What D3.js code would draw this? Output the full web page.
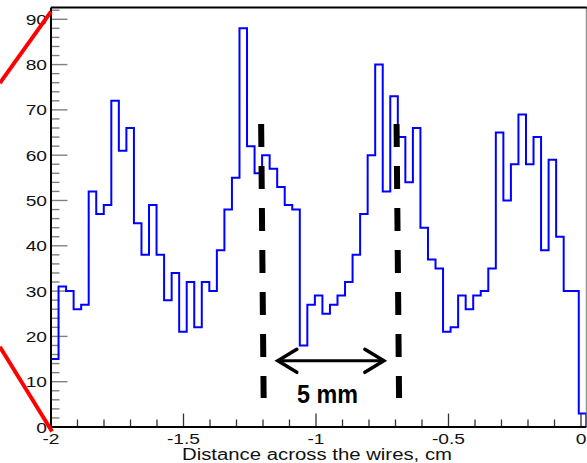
<!DOCTYPE html>
<html>
<head>
<meta charset="utf-8">
<script src="https://cdn.jsdelivr.net/npm/d3@7.9.0/dist/d3.min.js"></script>
<style>
  html, body { margin: 0; padding: 0; background: #fff; }
  svg { display: block; font-family: "Liberation Sans", Arial, sans-serif; }
</style>
</head>
<body>
<svg id="chart" width="587" height="463"></svg>
<script>
// histogram: 71 bins from -2 to 0.02 cm
const xMin = -2;
const xMax = 0.02;
const counts = [
  15, 31, 30, 26, 27, 52, 47, 49, 72, 61, 66, 45, 38, 49, 38, 28, 34, 21, 32, 22,
  32, 30, 39, 48, 55, 88, 62, 56, 60, 57, 53, 49, 48, 18, 27, 29, 25, 27, 29, 32,
  38, 47, 60, 80, 52, 73, 64, 54, 66, 44, 37, 35, 21, 22, 29, 26, 29, 30, 35, 65,
  50, 58, 69, 58, 64, 39, 59, 42, 30, 30, 3
];
const xMajorTicks = [-2, -1.5, -1, -0.5, 0];
const xTickLabels = ['-2', '-1.5', '-1', '-0.5', '0'];
const yMajorTicks = [0, 10, 20, 30, 40, 50, 60, 70, 80, 90];
const xTitle = 'Distance across the wires, cm';

// annotations (data units)
const dashedLines = [-1.207, -0.696];
const arrowSpan = [-1.144, -0.744];
const arrowY = 14.6;
const redLines = [
  [[-2.193, 75.9], [-2.0, 91.7]],
  [[-2.193, 17.7], [-1.996, -1.0]]
];

const svg = d3.select('#chart');
const x = d3.scaleLinear().domain([xMin, xMax]).range([51, 586.3]);
const y = d3.scaleLinear().domain([0, 92.6]).range([427, 7.5]);

const binW = (xMax - xMin) / counts.length;

// step outline
const pts = [[xMin, 0]];
counts.forEach((c, i) => pts.push([xMin + i * binW, c]));
pts.push([xMax, counts[counts.length - 1]]);
pts.push([xMax, 0]);

const line = d3.line().x(d => x(d[0])).y(d => y(d[1])).curve(d3.curveStepAfter);

// y minor/major ticks (inside)
const yMinor = d3.range(0, 92.6, 2);
svg.append('g').selectAll('line')
   .data(yMinor)
   .join('line')
   .attr('x1', x(xMin))
   .attr('x2', d => x(xMin) + (d % 10 === 0 ? 16.5 : 8.5))
   .attr('y1', d => y(d)).attr('y2', d => y(d))
   .attr('stroke', '#808080').attr('stroke-width', 1.4);

// x ticks
const xMinor = d3.range(0, 21).map(i => -2 + i * 0.1);
svg.append('g').selectAll('line')
   .data(xMinor)
   .join('line')
   .attr('x1', d => x(d)).attr('x2', d => x(d))
   .attr('y1', y(0))
   .attr('y2', (d, i) => y(0) - (i % 5 === 0 ? 13.5 : 7.5))
   .attr('stroke', '#333').attr('stroke-width', 1.3);

// histogram
svg.append('path')
   .attr('d', line(pts))
   .attr('fill', 'none')
   .attr('stroke', '#0000ff')
   .attr('stroke-width', 2);

// frame
svg.append('line').attr('x1', x(xMax)).attr('x2', x(xMax)).attr('y1', y.range()[1]).attr('y2', y(0))
   .attr('stroke', '#777').attr('stroke-width', 1);
svg.append('line').attr('x1', x(xMin)).attr('x2', x(xMax) + 0.5).attr('y1', y.range()[1]).attr('y2', y.range()[1])
   .attr('stroke', '#000').attr('stroke-width', 2);
svg.append('line').attr('x1', x(xMin)).attr('x2', x(xMin)).attr('y1', y.range()[1]).attr('y2', y(0) + 1)
   .attr('stroke', '#000').attr('stroke-width', 2);
svg.append('line').attr('x1', x(xMin) - 1).attr('x2', x(xMax)).attr('y1', y(0)).attr('y2', y(0))
   .attr('stroke', '#000').attr('stroke-width', 2);

// tick labels (slightly wide glyphs, like the original)
svg.append('g').selectAll('text')
   .data(yMajorTicks)
   .join('text')
   .attr('transform', d => `translate(47,${y(d) + 5.5}) scale(1.28,1)`)
   .attr('text-anchor', 'end')
   .attr('font-size', 15)
   .attr('fill', '#111')
   .text(d => d);

svg.append('g').selectAll('text')
   .data(xMajorTicks)
   .join('text')
   .attr('transform', d => `translate(${x(d)},443.5) scale(1.28,1)`)
   .attr('text-anchor', 'middle')
   .attr('font-size', 15)
   .attr('fill', '#111')
   .text((d, i) => xTickLabels[i]);

svg.append('text')
   .attr('x', 182).attr('y', 460)
   .attr('font-size', 16)
   .attr('textLength', 270)
   .attr('lengthAdjust', 'spacingAndGlyphs')
   .attr('fill', '#111')
   .text(xTitle);

// red lines
redLines.forEach(seg => {
  svg.append('line')
     .attr('x1', x(seg[0][0])).attr('y1', y(seg[0][1]))
     .attr('x2', x(seg[1][0])).attr('y2', y(seg[1][1]))
     .attr('stroke', '#ff0000').attr('stroke-width', 4);
});

// dashed markers
dashedLines.forEach(d => {
  svg.append('line')
     .attr('x1', x(d)).attr('y1', 124)
     .attr('x2', x(d) + 2.5).attr('y2', 398)
     .attr('stroke', '#000').attr('stroke-width', 6)
     .attr('stroke-dasharray', '23 19');
});

// double arrow
const ax1 = x(arrowSpan[0]), ax2 = x(arrowSpan[1]), ay = y(arrowY);
svg.append('line').attr('x1', ax1 + 1).attr('x2', ax2 - 1).attr('y1', ay).attr('y2', ay)
   .attr('stroke', '#000').attr('stroke-width', 3);
svg.append('path')
   .attr('d', `M${ax1 + 19},${ay - 11.5} L${ax1},${ay} L${ax1 + 19},${ay + 11.5}` +
              `M${ax2 - 19},${ay - 11.5} L${ax2},${ay} L${ax2 - 19},${ay + 11.5}`)
   .attr('fill', 'none').attr('stroke', '#000').attr('stroke-width', 3.5)
   .attr('stroke-linecap', 'round');

svg.append('text')
   .attr('x', 297).attr('y', 403)
   .attr('font-size', 25).attr('font-weight', 'bold')
   .attr('textLength', 61).attr('lengthAdjust', 'spacingAndGlyphs')
   .attr('fill', '#000')
   .text('5 mm');
</script>
</body>
</html>
